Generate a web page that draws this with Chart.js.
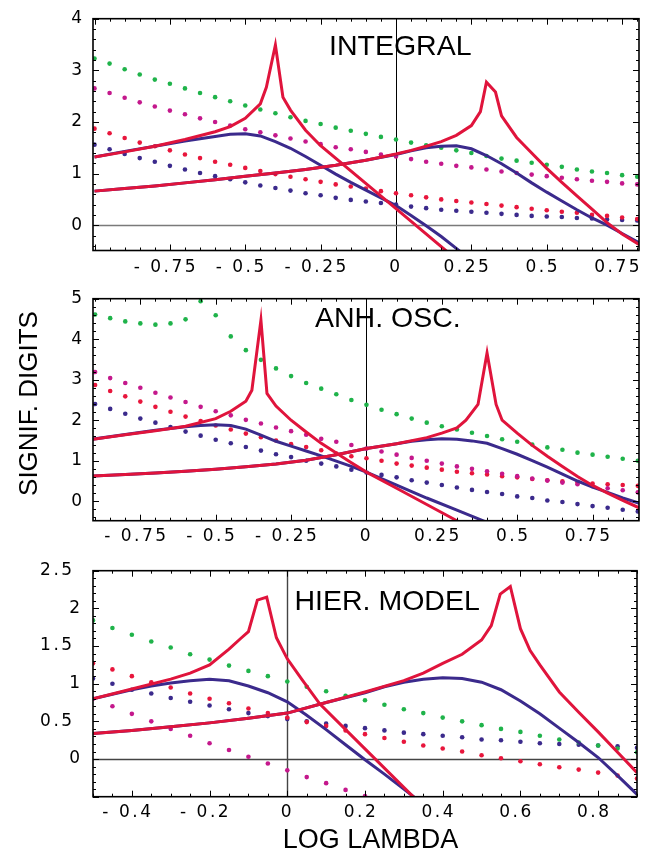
<!DOCTYPE html>
<html>
<head>
<meta charset="utf-8">
<title>Signif. digits vs log lambda</title>
<script src="https://cdn.jsdelivr.net/npm/chart.js@4.4.1/dist/chart.umd.min.js"></script>
<style>
  body { margin: 0; background: #fff; }
  #wrap { position: relative; width: 652px; height: 854px; }
  canvas { position: absolute; left: 0; }
</style>
</head>
<body>
<div id="wrap">
  <canvas id="integral" width="652" height="280" style="top:0px"></canvas>
  <canvas id="anhosc" width="652" height="270" style="top:280px"></canvas>
  <canvas id="hier" width="652" height="304" style="top:550px"></canvas>
</div>
<script>
// ---- INTEGRAL ----
const xTicks1 = [-0.75, -0.5, -0.25, 0, 0.25, 0.5, 0.75];
const yTicks1 = [0, 1, 2, 3, 4];
const dotX1 = [-1, -0.95, -0.9, -0.85, -0.8, -0.75, -0.7, -0.65, -0.6, -0.55, -0.5, -0.45, -0.4, -0.35, -0.3, -0.25, -0.2, -0.15, -0.1, -0.05, 0, 0.05, 0.1, 0.15, 0.2, 0.25, 0.3, 0.35, 0.4, 0.45, 0.5, 0.55, 0.6, 0.65, 0.7, 0.75, 0.8];
const green1 = [3.23, 3.13, 3.02, 2.92, 2.82, 2.74, 2.65, 2.56, 2.48, 2.40, 2.32, 2.24, 2.17, 2.09, 2.02, 1.96, 1.89, 1.83, 1.77, 1.71, 1.66, 1.60, 1.55, 1.50, 1.45, 1.40, 1.34, 1.29, 1.25, 1.21, 1.17, 1.13, 1.08, 1.04, 1.01, 0.97, 0.94];
const magenta1 = [2.65, 2.56, 2.47, 2.38, 2.30, 2.22, 2.15, 2.07, 2.00, 1.93, 1.86, 1.80, 1.74, 1.68, 1.62, 1.57, 1.51, 1.47, 1.42, 1.37, 1.33, 1.28, 1.23, 1.19, 1.15, 1.12, 1.08, 1.04, 1.01, 0.98, 0.95, 0.92, 0.89, 0.86, 0.84, 0.81, 0.79];
const red1 = [1.87, 1.78, 1.69, 1.60, 1.53, 1.45, 1.37, 1.30, 1.23, 1.17, 1.11, 1.05, 0.99, 0.94, 0.89, 0.84, 0.79, 0.75, 0.71, 0.66, 0.62, 0.58, 0.54, 0.50, 0.47, 0.44, 0.41, 0.38, 0.35, 0.32, 0.29, 0.26, 0.24, 0.20, 0.18, 0.15, 0.12];
const blue1 = [1.56, 1.47, 1.38, 1.30, 1.23, 1.15, 1.08, 1.01, 0.95, 0.89, 0.83, 0.77, 0.72, 0.67, 0.62, 0.58, 0.53, 0.49, 0.46, 0.43, 0.40, 0.36, 0.33, 0.30, 0.28, 0.26, 0.24, 0.22, 0.20, 0.18, 0.17, 0.16, 0.14, 0.13, 0.11, 0.10, 0.09];
const redAx1 = [-1, -0.9, -0.8, -0.7, -0.6, -0.55, -0.5, -0.45, -0.43, -0.4, -0.375, -0.35, -0.3, -0.25, 0, 0.2];
const redAy1 = [1.32, 1.42, 1.53, 1.66, 1.81, 1.91, 2.07, 2.35, 2.67, 3.49, 2.48, 2.23, 1.84, 1.54, 0.32, -0.66];
const blueAx1 = [-1, -0.9, -0.8, -0.7, -0.6, -0.55, -0.5, -0.45, -0.4, -0.35, -0.3, -0.25, -0.2, -0.15, -0.1, -0.05, 0, 0.05, 0.1, 0.15, 0.2, 0.25];
const blueAy1 = [1.32, 1.43, 1.53, 1.63, 1.72, 1.76, 1.77, 1.73, 1.62, 1.49, 1.33, 1.16, 0.99, 0.83, 0.68, 0.53, 0.38, 0.19, -0.01, -0.22, -0.45, -0.68];
const redBx1 = [-1, -0.9, -0.8, -0.7, -0.6, -0.5, -0.4, -0.3, -0.2, -0.1, 0, 0.05, 0.1, 0.15, 0.2, 0.25, 0.28, 0.3, 0.33, 0.35, 0.4, 0.45, 0.5, 0.55, 0.6, 0.65, 0.7, 0.75, 0.81];
const redBy1 = [0.66, 0.71, 0.76, 0.82, 0.88, 0.95, 1.01, 1.08, 1.16, 1.26, 1.38, 1.45, 1.53, 1.62, 1.74, 1.93, 2.2, 2.77, 2.58, 2.12, 1.70, 1.40, 1.10, 0.83, 0.57, 0.31, 0.05, -0.17, -0.39];
const blueBx1 = [-1, -0.9, -0.8, -0.7, -0.6, -0.5, -0.4, -0.3, -0.2, -0.1, 0, 0.05, 0.1, 0.15, 0.2, 0.25, 0.3, 0.35, 0.4, 0.45, 0.5, 0.55, 0.6, 0.65, 0.7, 0.75, 0.81];
const blueBy1 = [0.66, 0.71, 0.76, 0.82, 0.88, 0.95, 1.01, 1.08, 1.16, 1.26, 1.37, 1.44, 1.50, 1.53, 1.54, 1.48, 1.35, 1.19, 1.01, 0.82, 0.64, 0.47, 0.30, 0.14, 0.0, -0.16, -0.35];

// ---- ANH. OSC. ----
const xTicks2 = [-0.75, -0.5, -0.25, 0, 0.25, 0.5, 0.75];
const yTicks2 = [0, 1, 2, 3, 4, 5];
const dotX2 = [-0.9, -0.85, -0.8, -0.75, -0.7, -0.65, -0.6, -0.55, -0.5, -0.45, -0.4, -0.35, -0.3, -0.25, -0.2, -0.15, -0.1, -0.05, 0, 0.05, 0.1, 0.15, 0.2, 0.25, 0.3, 0.35, 0.4, 0.45, 0.5, 0.55, 0.6, 0.65, 0.7, 0.75, 0.8, 0.85, 0.9];
const green2 = [4.61, 4.52, 4.44, 4.39, 4.36, 4.39, 4.49, 4.94, 4.59, 4.07, 3.73, 3.49, 3.28, 3.09, 2.92, 2.78, 2.64, 2.50, 2.38, 2.26, 2.15, 2.04, 1.94, 1.85, 1.77, 1.69, 1.61, 1.53, 1.47, 1.40, 1.33, 1.27, 1.20, 1.15, 1.10, 1.05, 1.00];
const magenta2 = [3.19, 3.04, 2.92, 2.80, 2.68, 2.56, 2.45, 2.33, 2.22, 2.12, 2.01, 1.92, 1.82, 1.73, 1.64, 1.54, 1.47, 1.39, 1.30, 1.23, 1.15, 1.07, 1.00, 0.93, 0.86, 0.80, 0.74, 0.68, 0.62, 0.56, 0.51, 0.46, 0.42, 0.37, 0.32, 0.27, 0.22];
const red2 = [2.87, 2.72, 2.59, 2.46, 2.33, 2.21, 2.09, 1.98, 1.87, 1.77, 1.67, 1.58, 1.50, 1.41, 1.34, 1.26, 1.18, 1.11, 1.06, 1.00, 0.93, 0.88, 0.83, 0.78, 0.73, 0.69, 0.66, 0.62, 0.59, 0.55, 0.52, 0.49, 0.46, 0.44, 0.42, 0.40, 0.38];
const blue2 = [2.40, 2.28, 2.16, 2.04, 1.94, 1.83, 1.72, 1.62, 1.52, 1.43, 1.34, 1.25, 1.16, 1.09, 1.00, 0.93, 0.86, 0.78, 0.71, 0.65, 0.59, 0.52, 0.46, 0.40, 0.34, 0.28, 0.23, 0.18, 0.12, 0.08, 0.02, -0.02, -0.07, -0.12, -0.16, -0.21, -0.25];
const redAx2 = [-0.91, -0.8, -0.7, -0.6, -0.5, -0.45, -0.4, -0.38, -0.35, -0.33, -0.3, -0.25, -0.2, -0.15, -0.1, -0.05, 0, 0.1, 0.2, 0.3, 0.35];
const redAy2 = [1.53, 1.64, 1.74, 1.85, 2.04, 2.22, 2.47, 2.74, 4.47, 2.66, 2.35, 2.00, 1.71, 1.43, 1.19, 0.95, 0.72, 0.32, -0.08, -0.48, -0.68];
const blueAx2 = [-0.91, -0.8, -0.7, -0.6, -0.55, -0.5, -0.45, -0.4, -0.35, -0.3, -0.25, -0.2, -0.15, -0.1, -0.05, 0, 0.1, 0.2, 0.3, 0.4, 0.45];
const blueAy2 = [1.53, 1.65, 1.75, 1.84, 1.87, 1.89, 1.87, 1.78, 1.63, 1.48, 1.36, 1.24, 1.12, 0.99, 0.86, 0.72, 0.40, 0.08, -0.22, -0.52, -0.68];
const redBx2 = [-0.91, -0.8, -0.7, -0.6, -0.5, -0.4, -0.3, -0.2, -0.1, 0, 0.1, 0.2, 0.25, 0.3, 0.33, 0.37, 0.4, 0.43, 0.45, 0.5, 0.55, 0.6, 0.65, 0.7, 0.75, 0.8, 0.85, 0.91];
const redBy2 = [0.62, 0.66, 0.70, 0.74, 0.79, 0.85, 0.92, 1.01, 1.15, 1.30, 1.42, 1.57, 1.68, 1.81, 2.0, 2.39, 3.66, 2.39, 2.0, 1.68, 1.38, 1.11, 0.86, 0.61, 0.39, 0.20, 0.02, -0.18];
const blueBx2 = [-0.91, -0.8, -0.7, -0.6, -0.5, -0.4, -0.3, -0.2, -0.1, 0, 0.1, 0.15, 0.2, 0.25, 0.3, 0.35, 0.4, 0.45, 0.5, 0.55, 0.6, 0.65, 0.7, 0.75, 0.8, 0.85, 0.91];
const blueBy2 = [0.62, 0.66, 0.70, 0.74, 0.79, 0.85, 0.92, 1.01, 1.15, 1.30, 1.42, 1.48, 1.52, 1.54, 1.53, 1.49, 1.43, 1.30, 1.16, 1.00, 0.84, 0.67, 0.50, 0.35, 0.22, 0.08, -0.06];

// ---- HIER. MODEL ----
const xTicks3 = [-0.4, -0.2, 0, 0.2, 0.4, 0.6, 0.8];
const yTicks3 = [0, 0.5, 1, 1.5, 2, 2.5];
const dotX3 = [-0.5, -0.45, -0.4, -0.35, -0.3, -0.25, -0.2, -0.15, -0.1, -0.05, 0, 0.05, 0.1, 0.15, 0.2, 0.25, 0.3, 0.35, 0.4, 0.45, 0.5, 0.55, 0.6, 0.65, 0.7, 0.75, 0.8, 0.85, 0.9];
const green3 = [1.84, 1.74, 1.65, 1.56, 1.48, 1.39, 1.32, 1.24, 1.17, 1.10, 1.03, 0.96, 0.90, 0.84, 0.78, 0.72, 0.66, 0.61, 0.55, 0.50, 0.45, 0.40, 0.36, 0.31, 0.26, 0.22, 0.18, 0.14, 0.09];
const magenta3 = [0.80, 0.70, 0.60, 0.50, 0.40, 0.31, 0.21, 0.12, 0.03, -0.06, -0.15, -0.24, -0.32, -0.41, -0.49];
const red3 = [1.27, 1.19, 1.10, 1.02, 0.95, 0.87, 0.80, 0.74, 0.67, 0.61, 0.55, 0.49, 0.44, 0.38, 0.33, 0.28, 0.23, 0.18, 0.14, 0.10, 0.05, 0.01, -0.03, -0.07, -0.11, -0.14, -0.18, -0.22, -0.26];
const blue3 = [1.07, 1.00, 0.92, 0.87, 0.81, 0.76, 0.71, 0.66, 0.61, 0.57, 0.53, 0.50, 0.47, 0.44, 0.41, 0.38, 0.35, 0.33, 0.31, 0.29, 0.26, 0.25, 0.23, 0.21, 0.20, 0.19, 0.18, 0.17, 0.15];
const redAx3 = [-0.5, -0.4, -0.3, -0.25, -0.2, -0.15, -0.12, -0.1, -0.077, -0.053, -0.028, 0, 0.037, 0.084, 0.2, 0.33];
const redAy3 = [0.80, 0.93, 1.06, 1.14, 1.25, 1.46, 1.60, 1.69, 2.11, 2.15, 1.61, 1.33, 1.06, 0.73, 0.135, -0.53];
const blueAx3 = [-0.5, -0.45, -0.4, -0.35, -0.3, -0.25, -0.2, -0.15, -0.1, -0.05, 0, 0.05, 0.1, 0.15, 0.2, 0.25, 0.3, 0.35];
const blueAy3 = [0.80, 0.86, 0.92, 0.97, 1.01, 1.04, 1.06, 1.04, 0.97, 0.88, 0.76, 0.58, 0.39, 0.19, -0.01, -0.20, -0.40, -0.60];
const redBx3 = [-0.5, -0.4, -0.3, -0.2, -0.1, 0, 0.1, 0.2, 0.3, 0.35, 0.4, 0.45, 0.5, 0.525, 0.548, 0.574, 0.6, 0.625, 0.65, 0.7, 0.75, 0.8, 0.85, 0.9];
const redBy3 = [0.34, 0.38, 0.43, 0.48, 0.54, 0.61, 0.75, 0.89, 1.04, 1.14, 1.27, 1.39, 1.58, 1.77, 2.19, 2.29, 1.73, 1.44, 1.25, 0.89, 0.62, 0.36, 0.09, -0.18];
const blueBx3 = [-0.5, -0.4, -0.3, -0.2, -0.1, 0, 0.1, 0.2, 0.25, 0.3, 0.35, 0.4, 0.45, 0.5, 0.55, 0.6, 0.65, 0.7, 0.75, 0.8, 0.85, 0.9];
const blueBy3 = [0.34, 0.38, 0.43, 0.48, 0.54, 0.61, 0.75, 0.88, 0.96, 1.02, 1.06, 1.08, 1.07, 1.02, 0.92, 0.77, 0.60, 0.41, 0.22, 0.02, -0.22, -0.47];

const RED = '#e0143c';
const BLUE = '#3b2a8c';
const GREEN = '#1fb34a';
const MAGENTA = '#c4188c';
const RED_DOT = '#e8163c';
const TICK_FONT = { family: 'DejaVu Sans', size: 17 };
const TITLE_FONT = '28.5px "Liberation Sans", Arial, sans-serif';

// pair up x and y lists into {x, y} points
function pairs(xs, ys) {
  return ys.map((y, i) => ({ x: xs[i], y: y }));
}

function curve(xs, ys, color) {
  return { data: pairs(xs, ys), showLine: true, borderColor: color, borderWidth: 3,
           pointRadius: 0, tension: 0, fill: false };
}

function dots(xs, ys, color) {
  return { data: pairs(xs, ys), showLine: false, pointRadius: 2.3, pointBorderWidth: 0,
           pointBackgroundColor: color, backgroundColor: color };
}

// "- 0.75 " style labels, zero stays centered
function fmtX(v) {
  if (v === 0) return '0';
  return (v < 0 ? '- ' + (-v) : String(v)) + ' ';
}

function fmtY(v) {
  return Number.isInteger(v) ? String(v) : v + ' ';
}

// frame with inward ticks, zero lines and panel text
const framePlugin = {
  id: 'frame',
  beforeDraw(chart) {
    chart.ctx.letterSpacing = '2.5px';
  },
  beforeDatasetsDraw(chart, args, opts) {
    const { ctx, chartArea: a, scales: { x, y } } = chart;
    ctx.save();
    const x0 = Math.round(x.getPixelForValue(0)) + 0.5;
    ctx.strokeStyle = opts.vColor;
    ctx.lineWidth = opts.vWidth;
    ctx.beginPath();
    ctx.moveTo(x0, a.top);
    ctx.lineTo(x0, a.bottom);
    ctx.stroke();
    if (opts.hZero) {
      const y0 = Math.round(y.getPixelForValue(0)) + 0.5;
      ctx.strokeStyle = opts.hColor;
      ctx.lineWidth = 1.6;
      ctx.beginPath();
      ctx.moveTo(a.left, y0);
      ctx.lineTo(a.right, y0);
      ctx.stroke();
    }
    ctx.restore();
  },
  afterDatasetsDraw(chart, args, opts) {
    const { ctx, chartArea: a, scales: { x, y } } = chart;
    ctx.save();
    ctx.strokeStyle = '#000';
    ctx.lineWidth = 1;
    ctx.beginPath();
    const isMajor = (v, step) => Math.abs(v / step - Math.round(v / step)) < 1e-6;
    for (let k = Math.ceil(x.min / opts.xMinor); k * opts.xMinor <= x.max; k++) {
      const v = k * opts.xMinor;
      const px = Math.round(x.getPixelForValue(v)) + 0.5;
      const len = isMajor(v, opts.xMajor) ? 6 : 3;
      ctx.moveTo(px, a.bottom); ctx.lineTo(px, a.bottom - len);
      ctx.moveTo(px, a.top); ctx.lineTo(px, a.top + len);
    }
    for (let k = Math.ceil(y.min / opts.yMinor); k * opts.yMinor <= y.max + 1e-9; k++) {
      const v = k * opts.yMinor;
      const py = Math.round(y.getPixelForValue(v)) + 0.5;
      const len = isMajor(v, opts.yMajor) ? 6 : 3;
      ctx.moveTo(a.left, py); ctx.lineTo(a.left + len, py);
      ctx.moveTo(a.right, py); ctx.lineTo(a.right - len, py);
    }
    ctx.stroke();
    ctx.lineWidth = 1.6;
    ctx.strokeRect(a.left, a.top, a.right - a.left, a.bottom - a.top);
    ctx.restore();
  },
  afterDraw(chart, args, opts) {
    const ctx = chart.ctx;
    ctx.save();
    ctx.letterSpacing = '0px';
    ctx.fillStyle = '#000';
    ctx.textBaseline = 'alphabetic';
    (opts.texts || []).forEach(t => {
      ctx.save();
      ctx.font = t.font;
      ctx.textAlign = t.align || 'left';
      ctx.translate(t.x, t.y);
      if (t.rotate) ctx.rotate(t.rotate);
      ctx.fillText(t.text, 0, 0);
      ctx.restore();
    });
    ctx.restore();
  }
};

function makePanel(id, p) {
  const ctx = document.getElementById(id).getContext('2d');
  return new Chart(ctx, {
    type: 'scatter',
    data: {
      datasets: [
        curve(p.redAx, p.redAy, RED),
        curve(p.redBx, p.redBy, RED),
        curve(p.blueAx, p.blueAy, BLUE),
        curve(p.blueBx, p.blueBy, BLUE),
        dots(p.dotX, p.green, GREEN),
        dots(p.dotX, p.magenta, MAGENTA),
        dots(p.dotX, p.red, RED_DOT),
        dots(p.dotX, p.blue, BLUE)
      ]
    },
    plugins: [framePlugin],
    options: {
      responsive: false,
      animation: false,
      layout: { padding: { top: p.padTop, right: p.padRight, left: 0, bottom: 0 } },
      plugins: {
        legend: { display: false },
        tooltip: { enabled: false },
        frame: p.frame
      },
      scales: {
        x: {
          type: 'linear', min: p.xMin, max: p.xMax,
          afterBuildTicks: s => { s.ticks = p.xTicks.map(v => ({ value: v })); },
          afterFit: s => { s.height = p.xHeight; },
          grid: { display: false, drawTicks: false },
          border: { display: false },
          ticks: { font: TICK_FONT, color: '#000', padding: p.xPad, autoSkip: false,
                   maxRotation: 0, callback: fmtX }
        },
        y: {
          type: 'linear', min: p.yMin, max: p.yMax,
          afterBuildTicks: s => { s.ticks = p.yTicks.map(v => ({ value: v })); },
          afterFit: s => { s.width = 93; },
          grid: { display: false, drawTicks: false },
          border: { display: false },
          ticks: { font: TICK_FONT, color: '#000', padding: p.yPad, autoSkip: false,
                   callback: fmtY }
        }
      }
    }
  });
}

makePanel('integral', {
  dotX: dotX1, green: green1, magenta: magenta1, red: red1, blue: blue1,
  redAx: redAx1, redAy: redAy1, blueAx: blueAx1, blueAy: blueAy1,
  redBx: redBx1, redBy: redBy1, blueBx: blueBx1, blueBy: blueBy1,
  xTicks: xTicks1, yTicks: yTicks1,
  xMin: -1.005, xMax: 0.806, yMin: -0.49, yMax: 4,
  padTop: 13, padRight: 13, xHeight: 29.5, xPad: 7, yPad: 8.5,
  frame: {
    xMinor: 0.05, xMajor: 0.25, yMinor: 0.2, yMajor: 1,
    vColor: '#000', vWidth: 1, hZero: true, hColor: '#7a7a7a',
    texts: [{ text: 'INTEGRAL', x: 329, y: 55, font: TITLE_FONT }]
  }
});

makePanel('anhosc', {
  dotX: dotX2, green: green2, magenta: magenta2, red: red2, blue: blue2,
  redAx: redAx2, redAy: redAy2, blueAx: blueAx2, blueAy: blueAy2,
  redBx: redBx2, redBy: redBy2, blueBx: blueBx2, blueBy: blueBy2,
  xTicks: xTicks2, yTicks: yTicks2,
  xMin: -0.907, xMax: 0.904, yMin: -0.48, yMax: 5,
  padTop: 4, padRight: 13, xHeight: 29.3, xPad: 6, yPad: 8.5,
  frame: {
    xMinor: 0.05, xMajor: 0.25, yMinor: 0.2, yMajor: 1,
    vColor: '#000', vWidth: 1, hZero: false,
    texts: [
      { text: 'ANH. OSC.', x: 315, y: 46.7, font: TITLE_FONT },
      { text: 'SIGNIF. DIGITS', x: 37, y: 123.5, align: 'center', rotate: -Math.PI / 2,
        font: '26px "Liberation Sans", Arial, sans-serif' }
    ]
  }
});

makePanel('hier', {
  dotX: dotX3, green: green3, magenta: magenta3, red: red3, blue: blue3,
  redAx: redAx3, redAy: redAy3, blueAx: blueAx3, blueAy: blueAy3,
  redBx: redBx3, redBy: redBy3, blueBx: blueBx3, blueBy: blueBy3,
  xTicks: xTicks3, yTicks: yTicks3,
  xMin: -0.5, xMax: 0.9, yMin: -0.5, yMax: 2.5,
  padTop: 9, padRight: 15, xHeight: 57.3, xPad: 6, yPad: 10.5,
  frame: {
    xMinor: 0.05, xMajor: 0.2, yMinor: 0.1, yMajor: 0.5,
    vColor: '#444', vWidth: 1.4, hZero: true, hColor: '#444',
    texts: [
      { text: 'HIER. MODEL', x: 294.5, y: 60, font: TITLE_FONT },
      { text: 'LOG LAMBDA', x: 370.5, y: 298, align: 'center',
        font: '27px "Liberation Sans", Arial, sans-serif' }
    ]
  }
});
</script>
</body>
</html>
